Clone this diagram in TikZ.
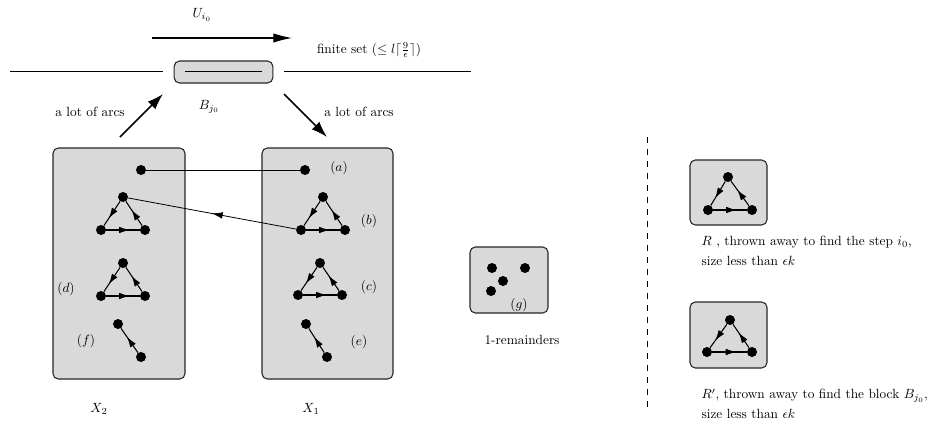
\documentclass[tikz,border=0pt]{standalone}
\usetikzlibrary{arrows.meta,decorations.markings}
\begin{document}
\begin{tikzpicture}[x=0.75pt,y=-0.75pt,
  dot/.style={circle,fill=black,inner sep=0pt,minimum size=7.5pt},
  grayblock/.style={draw=black!85,line width=0.8pt,fill=black!15,rounded corners=4pt},
  bigarrow/.style={line width=1.1pt,-{Latex[length=12pt,width=8pt]}},
  midarrow/.style={postaction={decorate,decoration={markings,
      mark=at position #1 with {\arrow{Latex[length=8pt,width=5pt]}}}}},
  edge/.style={line width=0.8pt},
  lbl/.style={inner sep=1pt,font=\normalsize}
]
\useasboundingbox (0,0) rectangle (951,443);

% top part
\coordinate (ua) at (152,38); \coordinate (ub) at (292,38);
\draw[line width=0.8pt,-{Latex[length=14pt,width=7pt]}] (ua) -- (ub);
\node[lbl] (ulab) at (202,15) {$U_{i_0}$};
\coordinate (l1) at (10,71); \coordinate (l2) at (163,71);
\coordinate (r1) at (284,71); \coordinate (r2) at (471,71);
\draw[line width=0.7pt] (l1) -- (l2);
\draw[line width=0.7pt] (r1) -- (r2);
\node[grayblock,minimum width=74pt,minimum height=16.5pt] (B) at (223.5,72) {};
\coordinate (bi1) at (185,71.5); \coordinate (bi2) at (262,71.5);
\draw[line width=0.7pt] (bi1) -- (bi2);
\node[lbl] (blab) at (209,107) {$B_{j_0}$};
\node[lbl] (fin) at (369,50) {finite set ($\leq l\lceil\frac{9}{\epsilon}\rceil$)};
\coordinate (a1s) at (120,137); \coordinate (a1e) at (163,94);
\draw[bigarrow] (a1s) -- (a1e);
\node[lbl] (arcs1) at (90,112) {a lot of arcs};
\coordinate (a2s) at (284,94); \coordinate (a2e) at (327,137);
\draw[bigarrow] (a2s) -- (a2e);
\node[lbl] (arcs2) at (359,112) {a lot of arcs};

% big boxes
\draw[grayblock] (53,148) rectangle (185,379);
\draw[grayblock] (262,148) rectangle (393,379);
\node[lbl] (x2) at (99,409) {$X_2$};
\node[lbl] (x1) at (311,409) {$X_1$};

% left box content
\node[dot] (La) at (141,170) {};
\node[dot] (Lbt) at (123,197) {};
\node[dot] (Lbl) at (101,230) {};
\node[dot] (Lbr) at (145,230) {};
\node[dot] (Ldt) at (123,263) {};
\node[dot] (Ldl) at (101,296) {};
\node[dot] (Ldr) at (145,296) {};
\node[dot] (Lft) at (118,324) {};
\node[dot] (Lfb) at (141,357) {};
\node[lbl] (dl) at (66,289) {$(d)$};
\node[lbl] (fl) at (86,341) {$(f)$};

% right box content
\node[dot] (Ra) at (305,170) {};
\node[dot] (Rbt) at (323,197) {};
\node[dot] (Rbl) at (301,230) {};
\node[dot] (Rbr) at (345,230) {};
\node[dot] (Rct) at (320,263) {};
\node[dot] (Rcl) at (298,295) {};
\node[dot] (Rcr) at (342,295) {};
\node[dot] (Ret) at (306,324) {};
\node[dot] (Reb) at (327,357) {};
\node[lbl] (al) at (339,168) {$(a)$};
\node[lbl] (bl) at (369,221) {$(b)$};
\node[lbl] (cl) at (369,287) {$(c)$};
\node[lbl] (el) at (359,342) {$(e)$};

\foreach \t/\l/\r in {Lbt/Lbl/Lbr,Ldt/Ldl/Ldr,Rbt/Rbl/Rbr,Rct/Rcl/Rcr}{
  \draw[edge,midarrow=0.7] (\t) -- (\l);
  \draw[edge,midarrow=0.7] (\l) -- (\r);
  \draw[edge,midarrow=0.65] (\r) -- (\t);
}
\draw[edge,midarrow=0.65] (Lfb) -- (Lft);
\draw[edge,midarrow=0.65] (Reb) -- (Ret);

% connectors between boxes
\draw[line width=0.6pt] (La) -- (Ra);
\draw[line width=0.6pt,midarrow=0.5] (Rbl) -- (Lbt);

% 1-remainders
\draw[grayblock] (470,247) rectangle (548,313);
\node[dot] (g1) at (492,268) {};
\node[dot] (g2) at (525,268) {};
\node[dot] (g3) at (503,281) {};
\node[dot] (g4) at (491,291) {};
\node[lbl] (gl) at (519,305) {$(g)$};
\node[lbl] (rem) at (522,340) {1-remainders};

% dashed separator
\coordinate (s1) at (647,137); \coordinate (s2) at (647,413);
\draw[line width=0.75pt,dash pattern=on 4.5pt off 4.5pt] (s1) -- (s2);

% R box
\draw[grayblock] (690,160) rectangle (767,225);
\node[dot] (Pt) at (728,177) {};
\node[dot] (Pl) at (708,210) {};
\node[dot] (Pr) at (752,210) {};
\draw[edge,midarrow=0.7] (Pt) -- (Pl);
\draw[edge,midarrow=0.7] (Pl) -- (Pr);
\draw[edge,midarrow=0.65] (Pr) -- (Pt);
\node[lbl,anchor=west,align=left] (Rtxt) at (700,251) {$R$ , thrown away to find the step $i_0$,\\[3pt] size less than $\epsilon k$};

% R' box
\draw[grayblock] (690,302) rectangle (767,368);
\node[dot] (Qt) at (730,320) {};
\node[dot] (Ql) at (707,352) {};
\node[dot] (Qr) at (752,352) {};
\draw[edge,midarrow=0.7] (Qt) -- (Ql);
\draw[edge,midarrow=0.7] (Ql) -- (Qr);
\draw[edge,midarrow=0.65] (Qr) -- (Qt);
\node[lbl,anchor=west,align=left] (Rptxt) at (700,404) {$R'$, thrown away to find the block $B_{j_0}$,\\[3pt] size less than $\epsilon k$};
\end{tikzpicture}
\end{document}
